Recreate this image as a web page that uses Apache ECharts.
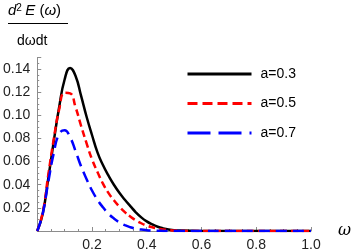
<!DOCTYPE html>
<html>
<head>
<meta charset="utf-8">
<script src="https://cdn.jsdelivr.net/npm/echarts@6/dist/echarts.min.js"></script>
<style>html,body{margin:0;padding:0;background:#fff}#c{width:354px;height:252px}</style>
</head>
<body>
<div id="c"></div>
<script>
var omega = [0,0.02,0.04,0.06,0.08,0.10,0.12,0.14,0.16,0.18,0.20,0.22,0.24,0.26,0.28,0.30,0.32,0.34,0.36,0.38,0.40,0.42,0.44,0.46,0.48,0.50,0.6,0.7,0.8,0.9,1.0];
var a03 = [0,0.015,0.045,0.077,0.107,0.131,0.141,0.134,0.117,0.099,0.083,0.068,0.057,0.048,0.040,0.033,0.027,0.0215,0.0162,0.0118,0.0083,0.0057,0.0037,0.0023,0.0013,0.0007,0,0,0,0,0];
var a05 = [0,0.016,0.048,0.079,0.105,0.1195,0.119,0.107,0.091,0.076,0.062,0.051,0.041,0.033,0.0265,0.021,0.0163,0.0125,0.0093,0.0067,0.0047,0.0032,0.0021,0.0013,0.0008,0.0004,0,0,0,0,0];
var a07 = [0,0.015,0.042,0.067,0.084,0.087,0.081,0.069,0.056,0.045,0.035,0.027,0.0205,0.015,0.0108,0.0075,0.005,0.0032,0.002,0.0012,0.0007,0.0004,0.0002,0.0001,0,0,0,0,0,0,0];
var seriesNames = ['a=0.3','a=0.5','a=0.7'];
var xTicks = [0.2,0.4,0.6,0.8,1.0];
var yTicks = [0.02,0.04,0.06,0.08,0.10,0.12,0.14];

function pairs(ys){ return omega.map(function(x,i){ return [x, ys[i]]; }); }
function fmt(v, list, d){
  for (var i=0;i<list.length;i++){ if (Math.abs(list[i]-v)<1e-9) return v.toFixed(d); }
  return '';
}
var FONT = "'Liberation Sans', Arial, sans-serif";
var chart = echarts.init(document.getElementById('c'), null, {renderer:'canvas'});
var axisGray = '#8c8c8c';
chart.setOption({
  animation:false,
  backgroundColor:'#fff',
  grid:{left:36, right:32, top:57.5, bottom:19, containLabel:false},
  xAxis:{
    type:'value', min:0, max:1, interval:0.2,
    name:'ω', nameLocation:'end', nameGap:27,
    nameTextStyle:{fontFamily:"'DejaVu Serif', serif", fontStyle:'italic', fontSize:16, color:'#000', verticalAlign:'middle', padding:[4,0,0,0]},
    axisLine:{show:true, onZero:false, lineStyle:{color:axisGray, width:1}},
    axisTick:{show:true, inside:true, length:4, lineStyle:{color:axisGray}},
    minorTick:{show:true, splitNumber:4, length:2, lineStyle:{color:axisGray}},
    splitLine:{show:false},
    axisLabel:{margin:7, fontFamily:FONT, fontSize:14, color:'#222', formatter:function(v){return fmt(v,xTicks,1);}}
  },
  yAxis:{
    type:'value', min:0, max:0.15, interval:0.02,
    axisLine:{show:true, onZero:false, lineStyle:{color:axisGray, width:1}},
    axisTick:{show:true, inside:true, length:4, lineStyle:{color:axisGray}},
    minorTick:{show:true, splitNumber:4, length:2, lineStyle:{color:axisGray}},
    splitLine:{show:false},
    axisLabel:{margin:7, fontFamily:FONT, fontSize:14, color:'#222', formatter:function(v){return fmt(v,yTicks,2);}}
  },
  legend:{
    orient:'vertical', left:186, top:67, padding:0, itemWidth:64, itemHeight:14, itemGap:15.5,
    itemStyle:{opacity:0},
    textStyle:{fontFamily:FONT, fontSize:14, color:'#000', padding:[0,0,0,4]},
    data:[
      {name:seriesNames[0], itemStyle:{opacity:0}, lineStyle:{color:'#000', width:3, type:'solid'}},
      {name:seriesNames[1], itemStyle:{opacity:0}, lineStyle:{color:'#ff0000', width:3, type:[10,5]}},
      {name:seriesNames[2], itemStyle:{opacity:0}, lineStyle:{color:'#0000ff', width:3, type:[23,8]}}
    ]
  },
  series:[
    {name:seriesNames[0], type:'line', data:pairs(a03), smooth:0.5, symbol:'none', color:'#000',
     lineStyle:{color:'#000', width:2.5, type:'solid'}},
    {name:seriesNames[1], type:'line', data:pairs(a05), smooth:0.5, symbol:'none', color:'#ff0000',
     lineStyle:{color:'#ff0000', width:2.5, type:[7,4]}},
    {name:seriesNames[2], type:'line', data:pairs(a07), smooth:0.5, symbol:'none', color:'#0000ff',
     lineStyle:{color:'#0000ff', width:2.5, type:[11,6]}}
  ],
  graphic:[
    {type:'text', left:8, top:3, style:{
      text:'{i|d}{s|2} {i|E}{n| (}{i|ω}{n|)}',
      rich:{
        i:{fontFamily:FONT, fontStyle:'italic', fontSize:15, fill:'#000', verticalAlign:'bottom'},
        n:{fontFamily:FONT, fontSize:15, fill:'#000', verticalAlign:'bottom'},
        s:{fontFamily:FONT, fontSize:10, fill:'#000', verticalAlign:'top'}
      }}},
    {type:'line', shape:{x1:8, y1:23.5, x2:68, y2:23.5}, style:{stroke:'#000', lineWidth:1}},
    {type:'text', left:17, top:34, style:{text:'dωdt', fontFamily:FONT, fontSize:14, fill:'#000'}}
  ]
});
</script>
</body>
</html>
